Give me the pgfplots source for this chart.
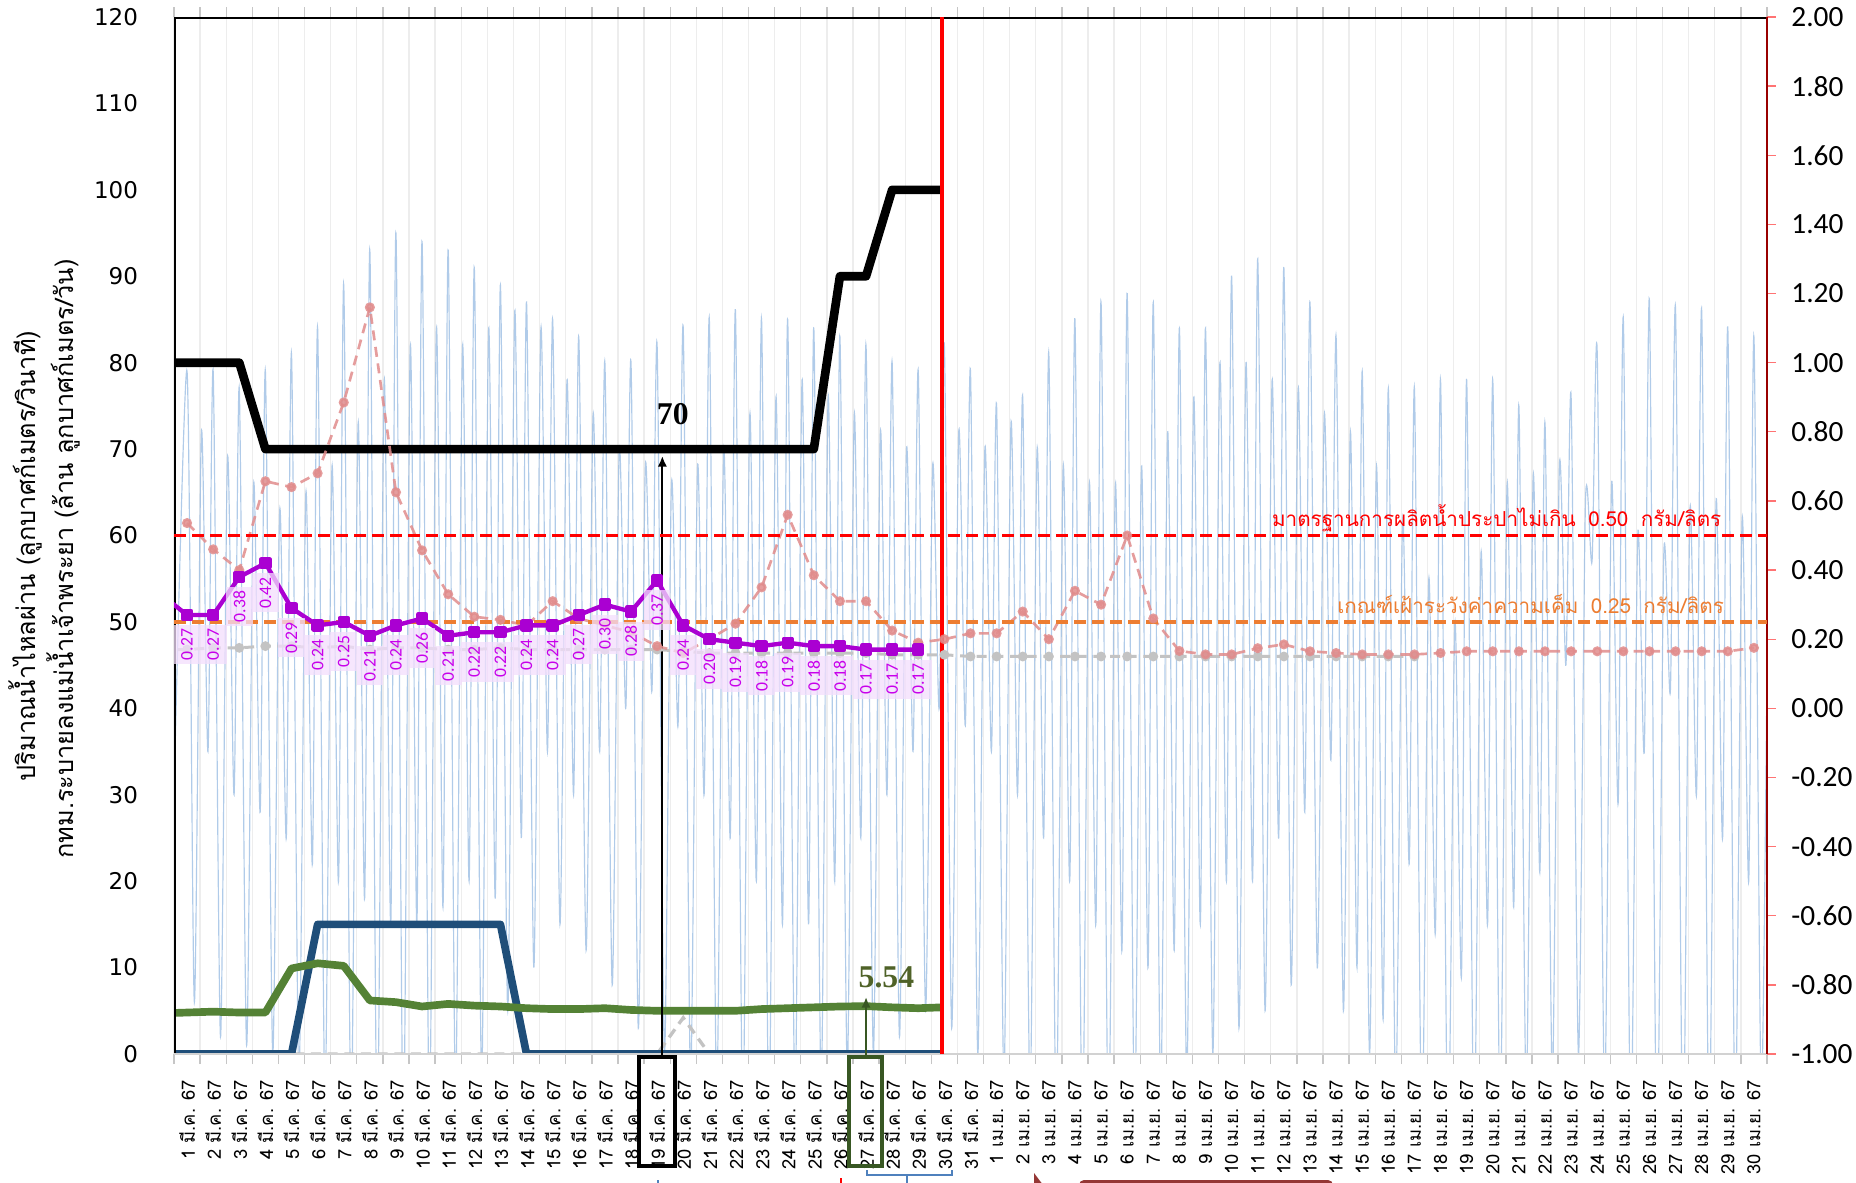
\documentclass[border=0pt]{standalone}
\usepackage{fontspec}
\usepackage{pgfplots}
\pgfplotsset{compat=1.18}
\usetikzlibrary{arrows.meta}
\setmainfont{Liberation Sans}
\newfontfamily\thaifont[Script=Thai]{Loma}
\newfontfamily\dejavu{DejaVu Sans}
\newfontfamily\carlito{Carlito}
\newfontfamily\serifb{Liberation Serif}
\definecolor{tideblue}{RGB}{150,185,225}
\definecolor{navy}{RGB}{31,78,121}
\definecolor{grn}{RGB}{84,130,53}
\definecolor{purp}{RGB}{170,0,210}
\definecolor{purptxt}{RGB}{200,0,235}
\definecolor{lav}{RGB}{243,222,252}
\definecolor{pinkd}{RGB}{225,140,140}
\definecolor{grayd}{RGB}{195,195,195}
\definecolor{orng}{RGB}{237,125,49}
\definecolor{olive}{RGB}{79,98,40}
\definecolor{darkgrn}{RGB}{56,87,35}
\definecolor{brickred}{RGB}{149,55,53}
\definecolor{bracketblue}{RGB}{79,129,189}
\begin{document}
\begin{tikzpicture}
\path[use as bounding box] (0,0) rectangle (556.8pt,354.6pt);
\begin{axis}[
  at={(52.2pt,38.4pt)}, anchor=south west,
  scale only axis, width=477.9pt, height=311.1pt,
  xmin=-0.5, xmax=60.5, ymin=0, ymax=120,
  axis line style={draw=none},
  xtick={0,...,60},
  xticklabels={1 มี.ค. 67,2 มี.ค. 67,3 มี.ค. 67,4 มี.ค. 67,5 มี.ค. 67,6 มี.ค. 67,7 มี.ค. 67,8 มี.ค. 67,9 มี.ค. 67,10 มี.ค. 67,11 มี.ค. 67,12 มี.ค. 67,13 มี.ค. 67,14 มี.ค. 67,15 มี.ค. 67,16 มี.ค. 67,17 มี.ค. 67,18 มี.ค. 67,19 มี.ค. 67,20 มี.ค. 67,21 มี.ค. 67,22 มี.ค. 67,23 มี.ค. 67,24 มี.ค. 67,25 มี.ค. 67,26 มี.ค. 67,27 มี.ค. 67,28 มี.ค. 67,29 มี.ค. 67,30 มี.ค. 67,31 มี.ค. 67,1 เม.ย. 67,2 เม.ย. 67,3 เม.ย. 67,4 เม.ย. 67,5 เม.ย. 67,6 เม.ย. 67,7 เม.ย. 67,8 เม.ย. 67,9 เม.ย. 67,10 เม.ย. 67,11 เม.ย. 67,12 เม.ย. 67,13 เม.ย. 67,14 เม.ย. 67,15 เม.ย. 67,16 เม.ย. 67,17 เม.ย. 67,18 เม.ย. 67,19 เม.ย. 67,20 เม.ย. 67,21 เม.ย. 67,22 เม.ย. 67,23 เม.ย. 67,24 เม.ย. 67,25 เม.ย. 67,26 เม.ย. 67,27 เม.ย. 67,28 เม.ย. 67,29 เม.ย. 67,30 เม.ย. 67},
  major x tick style={draw=none},
  minor xtick={-0.5,0.5,...,60.5},
  minor x tick style={draw=gray!45, line width=0.4pt},
  minor tick length=3pt,
  tick align=outside,
  xminorgrids=true,
  minor x grid style={draw=gray!14, line width=0.4pt},
  ytick={0,10,...,120},
  ytick style={draw=none},
  yticklabel style={font=\dejavu\fontsize{6.9}{8}\selectfont, xshift=-3pt},
  xticklabel style={font=\thaifont\fontsize{5.5}{6.5}\selectfont, rotate=90, anchor=east},
  /pgf/number format/assume math mode=true,
  clip=true,
]
% tide level (thin blue)
\addplot[tideblue, opacity=0.75, line width=0.35pt, smooth, tension=0.45, no markers] coordinates {
(-0.5,30)
(0,79) (0.28,6) (0.55,72) (0.8,35)
(1,79) (1.28,2) (1.55,69) (1.8,30)
(2,77) (2.28,1) (2.55,66) (2.8,28)
(3,79) (3.28,0) (3.55,63) (3.8,25)
(4,81) (4.28,-3) (4.55,65) (4.8,22)
(5,84) (5.28,-5) (5.55,68) (5.8,20)
(6,89) (6.28,-8) (6.55,73) (6.8,18)
(7,93) (7.28,-10) (7.55,78) (7.8,15)
(8,95) (8.28,-10) (8.55,82) (8.8,15)
(9,94) (9.28,-8) (9.55,84) (9.8,17)
(10,93) (10.28,-5) (10.55,82) (10.8,20)
(11,91) (11.28,-3) (11.55,84) (11.8,18)
(12,89) (12.28,5) (12.55,86) (12.8,25)
(13,87) (13.28,10) (13.55,84) (13.8,35)
(14,85) (14.28,15) (14.55,78) (14.8,30)
(15,83) (15.28,12) (15.55,74) (15.8,35)
(16,80) (16.28,8) (16.55,70) (16.8,40)
(17,80) (17.28,3) (17.55,68) (17.8,42)
(18,82) (18.28,0) (18.55,66) (18.8,38)
(19,84) (19.28,-3) (19.55,68) (19.8,30)
(20,85) (20.28,-5) (20.55,70) (20.8,25)
(21,86) (21.28,-8) (21.55,74) (21.8,20)
(22,85) (22.28,-8) (22.55,76) (22.8,15)
(23,85) (23.28,-6) (23.55,78) (23.8,15)
(24,84) (24.28,-4) (24.55,76) (24.8,20)
(25,83) (25.28,-2) (25.55,74) (25.8,25)
(26,82) (26.28,0) (26.55,72) (26.8,30)
(27,80) (27.28,2) (27.55,70) (27.8,35)
(28,79) (28.28,5) (28.55,68) (28.8,40)
(29,82) (29.28,3) (29.55,72) (29.8,38)
(30,79) (30.28,0) (30.55,70) (30.8,35)
(31,75) (31.28,-3) (31.55,73) (31.8,30)
(32,76) (32.28,-5) (32.55,70) (32.8,25)
(33,81) (33.28,-8) (33.55,68) (33.8,20)
(34,85) (34.28,-10) (34.55,66) (34.8,15)
(35,87) (35.28,-10) (35.55,66) (35.8,12)
(36,88) (36.28,-8) (36.55,68) (36.8,10)
(37,87) (37.28,-5) (37.55,72) (37.8,12)
(38,84) (38.28,-3) (38.55,76) (38.8,15)
(39,84) (39.28,0) (39.55,80) (39.8,20)
(40,90) (40.28,3) (40.55,80) (40.8,20)
(41,92) (41.28,5) (41.55,78) (41.8,25)
(42,91) (42.28,8) (42.55,77) (42.8,28)
(43,87) (43.28,10) (43.55,74) (43.8,34)
(44,83) (44.28,5) (44.55,72) (44.8,10)
(45,79) (45.28,0) (45.55,68) (45.8,4)
(46,77) (46.28,-5) (46.55,62) (46.8,22)
(47,77) (47.28,-10) (47.55,55) (47.8,14)
(48,78) (48.28,-12) (48.55,50) (48.8,9)
(49,78) (49.28,-10) (49.55,58) (49.8,15)
(50,78) (50.28,-8) (50.55,66) (50.8,17)
(51,75) (51.28,-5) (51.55,67) (51.8,21)
(52,73) (52.28,-3) (52.55,68) (52.8,45)
(53,76) (53.28,0) (53.55,64) (53.8,57)
(54,81) (54.28,-5) (54.55,66) (54.8,29)
(55,85) (55.28,-10) (55.55,60) (55.8,35)
(56,87) (56.28,-12) (56.55,58) (56.8,42)
(57,86) (57.28,-12) (57.55,63) (57.8,30)
(58,86) (58.28,-10) (58.55,64) (58.8,25)
(59,84) (59.28,-8) (59.55,62) (59.8,20)
(60,83) (60.28,-5) (60.55,60)
};
% gray dashed near zero
\addplot[grayd, line width=1pt, dash pattern=on 3pt off 2pt, no markers] coordinates {
(-1,0) (18,0) (19,4.2) (20,0) (28.9,0)};
% navy thick
\addplot[navy, line width=2.3pt, line join=round, no markers] coordinates {
(-1,0) (0,0) (1,0) (2,0) (3,0) (4,0) (5,15) (6,15) (7,15) (8,15) (9,15) (10,15) (11,15) (12,15) (13,0) (14,0) (15,0) (16,0) (17,0) (18,0) (19,0) (20,0) (21,0) (22,0) (23,0) (24,0) (25,0) (26,0) (27,0) (28,0) (28.9,0)};
% green thick
\addplot[grn, line width=2.3pt, line join=round, no markers] coordinates {
(-1,4.7) (0,4.8) (1,4.9) (2,4.8) (3,4.8) (4,9.9) (5,10.5) (6,10.2) (7,6.2) (8,6.0) (9,5.5) (10,5.8) (11,5.6) (12,5.5) (13,5.3) (14,5.2) (15,5.2) (16,5.3) (17,5.1) (18,5.0) (19,5.0) (20,5.0) (21,5.0) (22,5.2) (23,5.3) (24,5.4) (25,5.5) (26,5.54) (27,5.4) (28,5.3) (28.9,5.4)};
% black thick
\addplot[black, line width=2.6pt, line join=round, no markers] coordinates {
(-1,80) (0,80) (1,80) (2,80) (3,70) (4,70) (5,70) (6,70) (7,70) (8,70) (9,70) (10,70) (11,70) (12,70) (13,70) (14,70) (15,70) (16,70) (17,70) (18,70) (19,70) (20,70) (21,70) (22,70) (23,70) (24,70) (25,90) (26,90) (27,100) (28,100) (28.9,100)};
% frame
\draw[black, line width=1pt] (rel axis cs:0,0) -- (rel axis cs:0,1) -- (rel axis cs:1,1);
\draw[gray!35, line width=0.6pt] (rel axis cs:0,0) -- (rel axis cs:1,0);
% annotations
\draw[black, line width=0.6pt, -{Latex[length=3.2pt,width=2.8pt]}] (axis cs:18.2,-0.3) -- (axis cs:18.2,69.2);
\node[font=\serifb\bfseries\fontsize{9.5}{10}\selectfont] at (axis cs:18.6,74.1) {70};
\draw[darkgrn, line width=0.8pt, -{Latex[length=3.2pt,width=2.8pt]}] (axis cs:26,-0.3) -- (axis cs:26,6.6);
\node[text=olive, font=\serifb\bfseries\fontsize{9.5}{10}\selectfont] at (axis cs:26.78,8.9) {5.54};
\end{axis}
\begin{axis}[
  at={(52.2pt,38.4pt)}, anchor=south west,
  scale only axis, width=477.9pt, height=311.1pt,
  xmin=-0.5, xmax=60.5, ymin=-1, ymax=2,
  axis x line=none,
  axis y line*=right,
  y axis line style={draw=red!60!black, line width=0.6pt},
  ytick={-1,-0.8,-0.6,-0.4,-0.2,0,0.2,0.4,0.6,0.8,1,1.2,1.4,1.6,1.8,2},
  tick align=outside, major tick length=2.6pt,
  ytick style={draw=red!55, line width=0.4pt},
  yticklabel={\pgfmathprintnumber[fixed,fixed zerofill,precision=2]{\tick}},
  yticklabel style={font=\carlito\fontsize{8.8}{10}\selectfont, xshift=1.2pt},
  /pgf/number format/assume math mode=true,
  clip=true,
]
% gray dashed salinity
\addplot[grayd, line width=0.9pt, dash pattern=on 3pt off 2pt, mark=*, mark size=1pt, mark options={solid, fill=grayd, draw=grayd}] coordinates {
(-1,0.17) (0,0.17) (1,0.175) (2,0.175) (3,0.18) (4,0.18) (5,0.175) (6,0.18) (7,0.17) (8,0.175) (9,0.175) (10,0.17) (11,0.17) (12,0.175) (13,0.17) (14,0.17) (15,0.17) (16,0.17) (17,0.17) (18,0.17) (19,0.165) (20,0.16) (21,0.16) (22,0.16) (23,0.16) (24,0.16) (25,0.16) (26,0.16) (27,0.155) (28,0.155) (29,0.155) (30,0.15) (31,0.15) (32,0.15) (33,0.15) (34,0.15) (35,0.15) (36,0.15) (37,0.15) (38,0.15) (39,0.15) (40,0.15) (41,0.15) (42,0.15) (43,0.15) (44,0.15) (45,0.15) (46,0.15) (47,0.15)};
% pink dashed salinity
\addplot[pinkd, opacity=0.85, line width=0.8pt, dash pattern=on 3pt off 2pt, mark=*, mark size=1.1pt, mark options={solid, fill=pinkd, draw=pinkd}] coordinates {
(0,0.536) (1,0.46) (2,0.40) (3,0.657) (4,0.64) (5,0.68) (6,0.885) (7,1.16) (8,0.625) (9,0.457) (10,0.33) (11,0.265) (12,0.256) (13,0.24) (14,0.31) (15,0.26) (16,0.24) (17,0.22) (18,0.18) (19,0.16) (20,0.20) (21,0.245) (22,0.35) (23,0.56) (24,0.385) (25,0.31) (26,0.31) (27,0.225) (28,0.19) (29,0.20) (30,0.217) (31,0.217) (32,0.28) (33,0.20) (34,0.34) (35,0.30) (36,0.50) (37,0.26) (38,0.166) (39,0.156) (40,0.156) (41,0.174) (42,0.185) (43,0.165) (44,0.16) (45,0.156) (46,0.156) (47,0.156) (48,0.16) (49,0.165) (50,0.165) (51,0.165) (52,0.165) (53,0.165) (54,0.165) (55,0.165) (56,0.165) (57,0.165) (58,0.165) (59,0.165) (60,0.175)};
% thresholds
\addplot[red, line width=1pt, dash pattern=on 3.6pt off 1.8pt] coordinates {(-0.5,0.5) (60.5,0.5)};
\addplot[orng, line width=1pt, dash pattern=on 3.6pt off 1.8pt] coordinates {(-0.5,0.25) (60.5,0.25)};
% purple data labels (boxes under the line)
\addplot[draw=none, no markers, point meta=y,
  nodes near coords={\pgfmathprintnumber[fixed,fixed zerofill,precision=2]{\pgfplotspointmeta}},
  every node near coord/.append style={yshift=-2.8pt, rotate=90, anchor=east, font=\carlito\fontsize{5.3}{6}\selectfont, text=purptxt, fill=lav, fill opacity=0.75, text opacity=1, inner xsep=1.2pt, inner ysep=0.3pt, minimum height=8pt}] coordinates {
(0,0.27) (1,0.27) (2,0.38) (3,0.42) (4,0.29) (5,0.24) (6,0.25) (7,0.21) (8,0.24) (9,0.26) (10,0.21) (11,0.22) (12,0.22) (13,0.24) (14,0.24) (15,0.27) (16,0.30) (17,0.28) (18,0.37) (19,0.24) (20,0.20) (21,0.19) (22,0.18) (23,0.19) (24,0.18) (25,0.18) (26,0.17) (27,0.17) (28,0.17)};
% purple salinity
\addplot[purp, line width=1.3pt, line join=round, mark=square*, mark size=1.2pt, mark options={fill=purp, draw=purp}] coordinates {
(-1,0.33) (0,0.27) (1,0.27) (2,0.38) (3,0.42) (4,0.29) (5,0.24) (6,0.25) (7,0.21) (8,0.24) (9,0.26) (10,0.21) (11,0.22) (12,0.22) (13,0.24) (14,0.24) (15,0.27) (16,0.30) (17,0.28) (18,0.37) (19,0.24) (20,0.20) (21,0.19) (22,0.18) (23,0.19) (24,0.18) (25,0.18) (26,0.17) (27,0.17) (28,0.17)};
% red vertical line
\addplot[red, line width=1.3pt] coordinates {(28.9,-1) (28.9,2)};
\node[anchor=base east, text=red, font=\thaifont\fontsize{6.2}{7}\selectfont] at (axis cs:59.2,0.527) {มาตรฐานการผลิตน้ำประปาไม่เกิน\hspace{0.6em}0.50\hspace{0.6em}กรัม/ลิตร};
\node[anchor=base east, text=orng, font=\thaifont\fontsize{6.2}{7}\selectfont] at (axis cs:59.3,0.274) {เกณฑ์เฝ้าระวังค่าความเค็ม\hspace{0.6em}0.25\hspace{0.6em}กรัม/ลิตร};
\end{axis}
% y titles
\node[rotate=90, font=\thaifont\fontsize{7.6}{9}\selectfont] at (7.5pt,187.8pt) {ปริมาณน้ำไหลผ่าน (ลูกบาศก์เมตร/วินาที)};
\node[rotate=90, font=\thaifont\fontsize{7.6}{9}\selectfont] at (19pt,186.9pt) {กทม.ระบายลงแม่น้ำเจ้าพระยา (ล้าน ลูกบาศก์เมตร/วัน)};
% boxes around tick labels
\draw[black, line width=1.2pt] (191.7pt,4.8pt) rectangle (202.5pt,37.5pt);
\draw[darkgrn, line width=1.2pt] (254.8pt,4.8pt) rectangle (264.6pt,37.5pt);
% partial shapes at the bottom edge
\draw[bracketblue, line width=0.5pt] (260.1pt,3.6pt) -- (260.1pt,2.1pt) -- (285.6pt,2.1pt) -- (285.6pt,3.6pt);
\draw[bracketblue, line width=0.5pt] (272.1pt,2.1pt) -- (272.1pt,-1pt);
\draw[bracketblue, line width=0.4pt] (197.4pt,0.6pt) -- (197.4pt,-1pt);
\draw[red, line width=0.4pt] (252.3pt,1.2pt) -- (252.3pt,-1pt);
\fill[brickred] (310.2pt,2.7pt) -- (310.2pt,-1pt) -- (313pt,-1pt) -- cycle;
\fill[brickred, rounded corners=1.5pt] (323.7pt,-3pt) rectangle (399.9pt,0.6pt);
\end{tikzpicture}
\end{document}
